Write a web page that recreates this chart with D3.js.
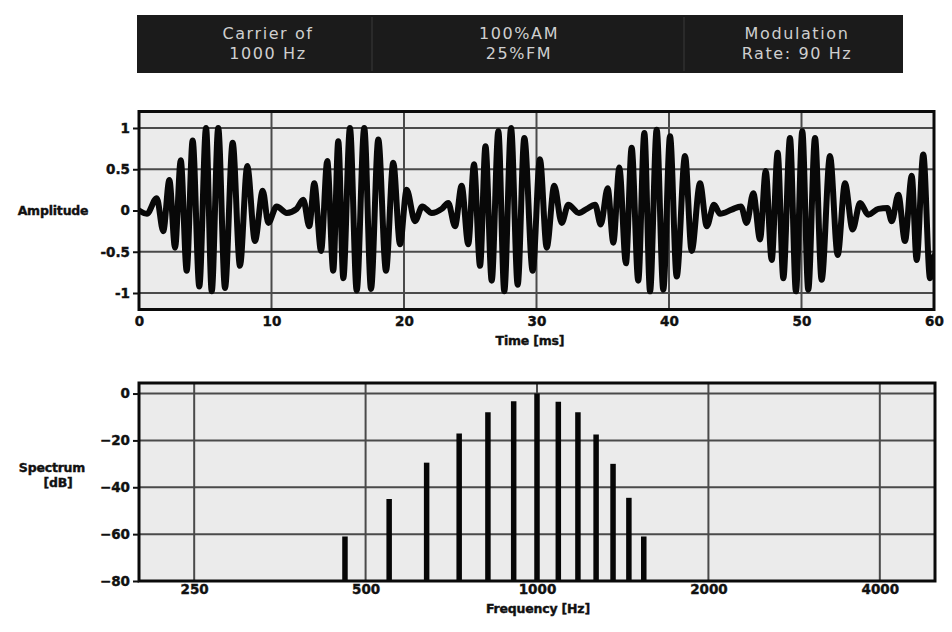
<!DOCTYPE html>
<html>
<head>
<meta charset="utf-8">
<script src="https://cdn.jsdelivr.net/npm/d3@7/dist/d3.min.js"></script>
<style>
  html, body { margin: 0; padding: 0; background: #ffffff; }
  svg { display: block; }
  .tick-label { font-family: "DejaVu Sans", sans-serif; font-weight: bold; font-size: 13.5px; fill: #111; stroke: #111; stroke-width: 0.4px; }
  .axis-title { font-family: "DejaVu Sans", sans-serif; font-weight: bold; font-size: 12.5px; fill: #111; stroke: #111; stroke-width: 0.4px; letter-spacing: -0.2px; }
  .banner-text { font-family: "DejaVu Sans", sans-serif; font-size: 16px; fill: #cfcfcf; letter-spacing: 1.6px; }
</style>
</head>
<body>
<svg id="chart" width="952" height="632"></svg>
<script>
// Header panel text (three columns, two lines each)
const bannerLines = [
  ["Carrier of", "1000 Hz"],
  ["100%AM", "25%FM"],
  ["Modulation", "Rate: 90 Hz"]
];

// Waveform: successive peaks and troughs of the modulated signal
const timeMs = [
  0, 0.6, 1.34, 1.83, 2.29, 2.72, 3.15, 3.6, 4.05, 4.55, 5.06, 5.49, 5.98, 6.49, 7.07, 7.62, 8.17, 8.75, 9.34, 9.76,
  10.39, 11.15, 11.9, 12.4, 12.85, 13.23, 13.74, 14.21, 14.66, 15.04, 15.42, 15.92, 16.43, 17.0, 17.51, 18.06, 18.64, 19.19, 19.7,
  20.2, 20.83, 21.38, 22.09, 22.85, 23.34, 23.85, 24.35, 24.85, 25.28, 25.74, 26.15, 26.62, 27.12, 27.57, 28.08, 28.58, 29.08, 29.71,
  30.26, 30.77, 31.34, 31.9, 32.4, 33.2, 33.8, 34.42, 34.85, 35.37, 35.8, 36.25, 36.75, 37.18, 37.68, 38.14, 38.57, 39.07, 39.57,
  40.08, 40.58, 41.21, 41.71, 42.34, 42.85, 43.4, 43.85, 44.73, 45.43, 45.86, 46.36, 46.87, 47.3, 47.75, 48.2, 48.63, 49.13, 49.58,
  50.06, 50.51, 51.02, 51.52, 52.15, 52.73, 53.28, 53.86, 54.42, 55.04, 55.8, 56.48, 56.81, 57.31, 57.81, 58.32, 58.69, 59.19, 59.7, 60
];
const amplitude = [
  0, -0.04, 0.15, -0.25, 0.37, -0.45, 0.61, -0.73, 0.85, -0.92, 1.0, -0.98, 1.0, -0.94, 0.82, -0.67, 0.54, -0.37, 0.24, -0.15,
  0.05, -0.03, 0.02, 0.13, -0.19, 0.33, -0.49, 0.6, -0.73, 0.84, -0.82, 1.0, -0.97, 1.0, -0.95, 0.86, -0.73, 0.58, -0.41,
  0.25, -0.13, 0.05, -0.03, 0.02, 0.09, -0.19, 0.3, -0.41, 0.56, -0.67, 0.78, -0.85, 0.96, -0.98, 1.0, -0.9, 0.88, -0.73,
  0.62, -0.45, 0.3, -0.15, 0.07, -0.03, 0.02, 0.07, -0.17, 0.27, -0.39, 0.52, -0.64, 0.76, -0.85, 0.94, -0.98, 0.98, -0.96,
  0.9, -0.8, 0.66, -0.49, 0.33, -0.19, 0.07, -0.04, 0.01, 0.05, -0.15, 0.21, -0.35, 0.48, -0.6, 0.7, -0.82, 0.88, -0.98,
  0.96, -0.96, 0.88, -0.84, 0.66, -0.54, 0.33, -0.23, 0.09, -0.05, 0.02, 0.03, -0.13, 0.19, -0.37, 0.42, -0.6, 0.68, -0.82, -0.55
];
const timeTicks = [0, 10, 20, 30, 40, 50, 60];
const ampTicks = [-1, -0.5, 0, 0.5, 1];
const ampTickLabels = ["-1", "-0.5", "0", "0.5", "1"];
const ampGrid = [-1, -0.5, 0.5, 1];

// Spectrum: carrier plus sidebands spaced by the modulation rate
const spectrumFreq = [460, 550, 640, 730, 820, 910, 1000, 1090, 1180, 1270, 1360, 1450, 1540];
const spectrumDb = [-61, -45, -29.5, -17, -8, -3.3, 0, -3.5, -8, -17.5, -30, -44.5, -61];
const freqTicks = [250, 500, 1000, 2000, 4000];
const dbTicks = [0, -20, -40, -60, -80];
const dbGrid = [0, -20, -40, -60];

const svg = d3.select("#chart");

// ---------- Header panel ----------
const banner = svg.append("g");
banner.append("rect")
  .attr("x", 137).attr("y", 15).attr("width", 766).attr("height", 58)
  .attr("fill", "#1b1b1b");
const colCenters = [268, 519, 797];
[372, 684].forEach(x => banner.append("line")
  .attr("x1", x).attr("x2", x).attr("y1", 17).attr("y2", 71)
  .attr("stroke", "#2a2a2a").attr("stroke-width", 2));
bannerLines.forEach((lines, i) => {
  lines.forEach((t, j) => {
    banner.append("text").attr("class", "banner-text")
      .attr("x", colCenters[i]).attr("y", 39 + j * 20)
      .attr("text-anchor", "middle").text(t);
  });
});

// ---------- Shared panel helpers ----------
function panelFill(g, x0, x1, y0, y1) {
  g.append("rect").attr("x", x0).attr("y", y0).attr("width", x1 - x0).attr("height", y1 - y0)
    .attr("fill", "#ebebeb");
}
function frameBorder(g, x0, x1, y0, y1) {
  g.append("rect").attr("x", x0).attr("y", y0).attr("width", x1 - x0).attr("height", y1 - y0)
    .attr("fill", "none").attr("stroke", "#0a0a0a").attr("stroke-width", 3);
}
function styleTicks(g) {
  g.select(".domain").remove();
  g.selectAll("line").attr("stroke", "#111").attr("stroke-width", 2);
  g.selectAll("text").attr("class", "tick-label").attr("font-family", null).attr("font-size", null).attr("fill", null);
}

// ---------- Waveform panel ----------
const xT = d3.scaleLinear().domain([0, 60]).range([139, 934]);
const yA = d3.scaleLinear().domain([-1.2, 1.2]).range([309.5, 111.5]);
const wavePanel = svg.append("g");
panelFill(wavePanel, 139, 934, 111.5, 309.5);

wavePanel.append("g").selectAll("line").data(timeTicks.slice(1, -1)).join("line")
  .attr("x1", d => xT(d)).attr("x2", d => xT(d)).attr("y1", 111.5).attr("y2", 309.5)
  .attr("stroke", "#4a4a4a").attr("stroke-width", 2);
wavePanel.append("g").selectAll("line").data(ampGrid).join("line")
  .attr("x1", 139).attr("x2", 934).attr("y1", d => yA(d)).attr("y2", d => yA(d))
  .attr("stroke", "#4a4a4a").attr("stroke-width", 2);

svg.append("clipPath").attr("id", "clipWave")
  .append("rect").attr("x", 139).attr("y", 111.5).attr("width", 795).attr("height", 198);

const wave = d3.line()
  .x((d, i) => xT(timeMs[i]))
  .y(d => yA(d))
  .curve(d3.curveMonotoneX);
wavePanel.append("path").datum(amplitude)
  .attr("clip-path", "url(#clipWave)")
  .attr("d", wave)
  .attr("fill", "none").attr("stroke", "#080808")
  .attr("stroke-width", 6).attr("stroke-linejoin", "round").attr("stroke-linecap", "round");

frameBorder(wavePanel, 139, 934, 111.5, 309.5);

wavePanel.append("g").attr("transform", "translate(0,311)")
  .call(d3.axisBottom(xT).tickValues(timeTicks).tickSize(0).tickPadding(5))
  .call(styleTicks);
wavePanel.append("g").attr("transform", "translate(139,0)")
  .call(d3.axisLeft(yA).tickValues(ampTicks).tickFormat((d, i) => ampTickLabels[i]).tickSize(6).tickPadding(3))
  .call(styleTicks);

wavePanel.append("text").attr("class", "axis-title").attr("x", 53).attr("y", 215)
  .attr("text-anchor", "middle").text("Amplitude");
wavePanel.append("text").attr("class", "axis-title").attr("x", 530).attr("y", 345)
  .attr("text-anchor", "middle").text("Time [ms]");

// ---------- Spectrum panel ----------
const xF = d3.scaleLog().domain([200, 5000]).range([139, 935]);
const yD = d3.scaleLinear().domain([-80, 4.5]).range([581, 383]);
const specPanel = svg.append("g");
panelFill(specPanel, 139, 935, 383, 581);

specPanel.append("g").selectAll("line").data(freqTicks).join("line")
  .attr("x1", d => xF(d)).attr("x2", d => xF(d)).attr("y1", 383).attr("y2", 581)
  .attr("stroke", "#4a4a4a").attr("stroke-width", 2);
specPanel.append("g").selectAll("line").data(dbGrid).join("line")
  .attr("x1", 139).attr("x2", 935).attr("y1", d => yD(d)).attr("y2", d => yD(d))
  .attr("stroke", "#4a4a4a").attr("stroke-width", 2);

specPanel.append("g").selectAll("line").data(spectrumDb).join("line")
  .attr("x1", (d, i) => xF(spectrumFreq[i])).attr("x2", (d, i) => xF(spectrumFreq[i]))
  .attr("y1", yD(-80)).attr("y2", d => yD(d))
  .attr("stroke", "#060606").attr("stroke-width", 5.5);

frameBorder(specPanel, 139, 935, 383, 581);

specPanel.append("g").attr("transform", "translate(0,582)")
  .call(d3.axisBottom(xF).tickValues(freqTicks).tickFormat(d3.format("d")).tickSize(0).tickPadding(2))
  .call(styleTicks);
specPanel.append("g").attr("transform", "translate(139,0)")
  .call(d3.axisLeft(yD).tickValues(dbTicks).tickSize(6).tickPadding(3))
  .call(styleTicks);

specPanel.append("text").attr("class", "axis-title").attr("x", 52).attr("y", 472)
  .attr("text-anchor", "middle").text("Spectrum");
specPanel.append("text").attr("class", "axis-title").attr("x", 58).attr("y", 487)
  .attr("text-anchor", "middle").text("[dB]");
specPanel.append("text").attr("class", "axis-title").attr("x", 538).attr("y", 613)
  .attr("text-anchor", "middle").text("Frequency [Hz]");
</script>
</body>
</html>
